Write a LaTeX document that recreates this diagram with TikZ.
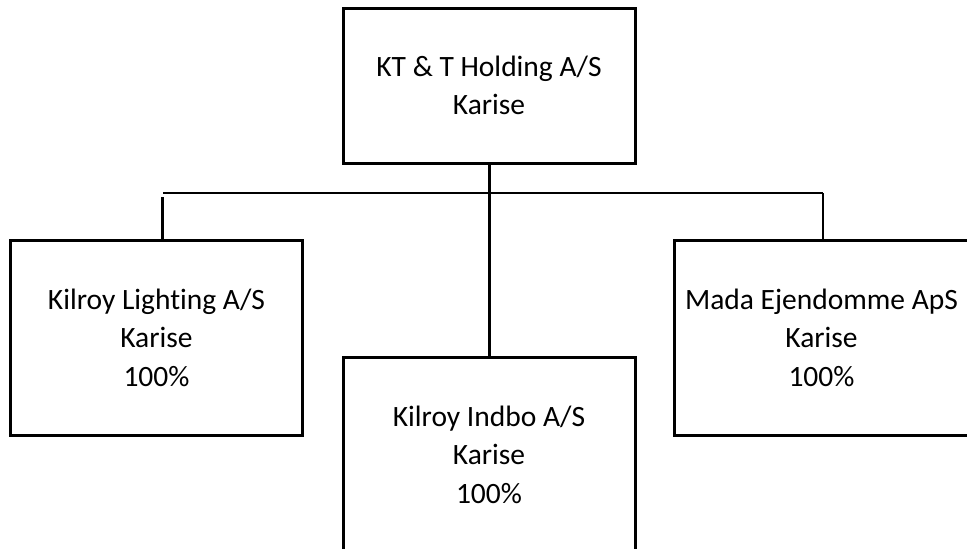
\documentclass[tikz,border=0pt]{standalone}
\usepackage{fontspec}
\setmainfont{Carlito}[Ligatures=NoCommon]
\usepackage{tikz}

\tikzset{
    company/.style={draw, line width=3pt, rectangle, align=center,
        minimum width=292pt, inner sep=0pt,
        font=\fontsize{29.5}{38.5}\selectfont},
    bus/.style={line width=2pt},
    stem/.style={line width=3pt}
}

\begin{document}
\begin{tikzpicture}[x=1pt,y=-1pt]
        \useasboundingbox (0,0) rectangle (967,549);

        \node[company, minimum height=155pt] (holding) at (489,85.5) {KT \& T Holding A/S\\Karise};
        \node[company, minimum height=195pt] (lighting) at (156.5,337.5) {Kilroy Lighting A/S\\Karise\\100\%};
        \node[company, minimum height=195pt] (indbo) at (489,454.5) {Kilroy Indbo A/S\\Karise\\100\%};
        \node[company, minimum height=195pt, minimum width=295pt] (mada) at (821.5,337.5) {Mada Ejendomme ApS\\Karise\\100\%};

        \coordinate (busL) at (163,193);
        \coordinate (busR) at (823,193);
        \coordinate (stubL) at (162,197);

        \draw[bus] (busL) -- (busR);
        \draw[bus] (busR) -- (busR |- mada.north);
        \draw[stem] (stubL) -- (stubL |- lighting.north);
        \draw[stem] (holding.south) -- (indbo.north);
    \end{tikzpicture}
\end{document}
